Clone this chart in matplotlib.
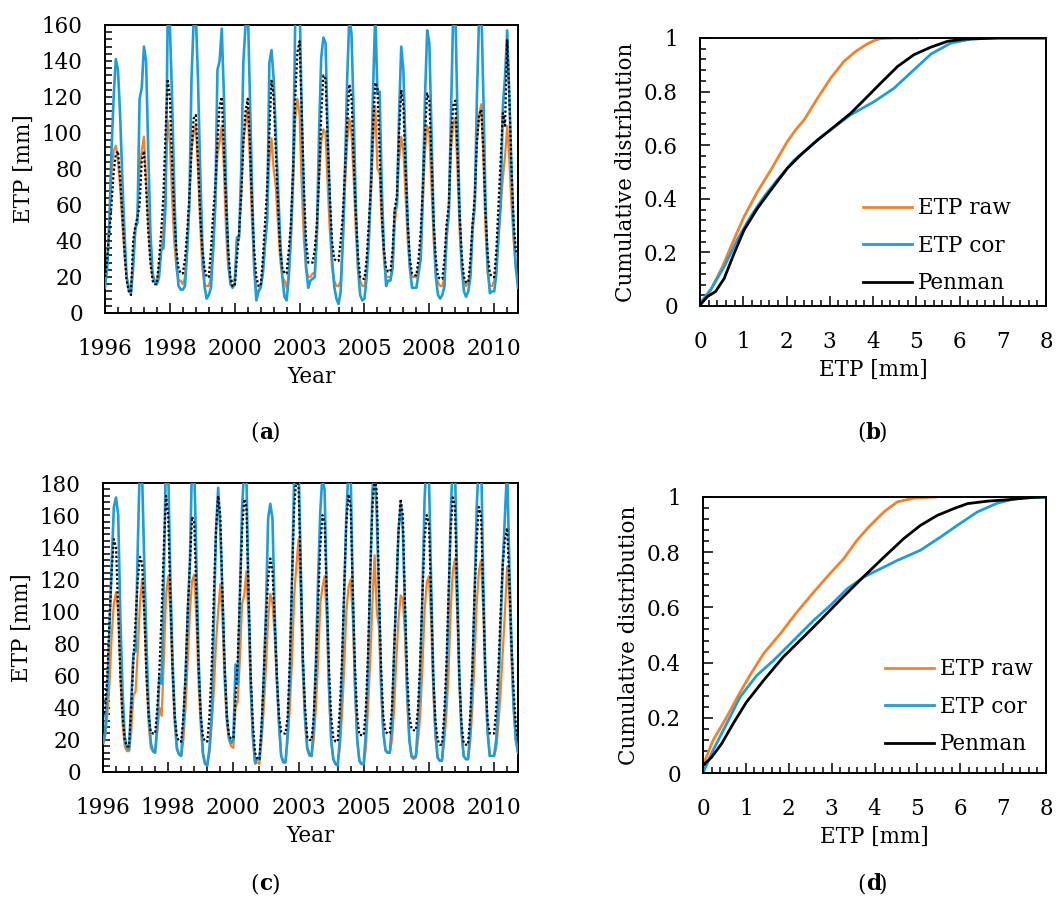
import numpy as np
import matplotlib
matplotlib.use("Agg")
import matplotlib.pyplot as plt
from matplotlib.ticker import MultipleLocator, FixedLocator, FuncFormatter

plt.rcParams['font.family'] = ['DejaVu Serif']
FS = 15.5

# ---------------- data: monthly ETP [mm], Jan 1996 - Dec 2011 ----------------
year_labels = ["1996", "1998", "2000", "2003", "2005", "2008", "2010"]

# panel (a)
raw_a = [
    [18, 28, 50, 78, 90, 93, 85, 70, 50, 32, 20, 15],
    [14, 28, 45, 55, 80, 90, 98, 75, 50, 30, 20, 18],
    [18, 25, 35, 45, 70, 107, 95, 65, 40, 25, 18, 18],
    [16, 20, 35, 60, 90, 100, 105, 80, 50, 25, 16, 15],
    [15, 20, 35, 60, 88, 95, 104, 80, 45, 25, 18, 18],
    [18, 38, 42, 65, 95, 105, 114, 85, 50, 25, 12, 12],
    [15, 22, 38, 52, 85, 97, 80, 70, 50, 30, 20, 18],
    [14, 22, 40, 70, 108, 119, 110, 70, 40, 25, 20, 20],
    [22, 22, 40, 75, 95, 102, 100, 70, 45, 25, 18, 15],
    [15, 18, 40, 70, 95, 108, 100, 75, 45, 25, 18, 15],
    [15, 22, 40, 65, 95, 115, 80, 78, 50, 30, 20, 20],
    [20, 25, 50, 60, 85, 98, 90, 65, 40, 25, 20, 20],
    [20, 25, 30, 60, 90, 104, 100, 70, 40, 22, 17, 15],
    [15, 20, 40, 55, 90, 105, 108, 80, 45, 25, 17, 15],
    [17, 22, 45, 58, 95, 110, 116, 85, 45, 22, 15, 15],
    [18, 25, 40, 60, 75, 87, 104, 85, 60, 40, 25, 18],
]
cor_a = [
    [14, 25, 50, 90, 120, 141, 135, 110, 75, 45, 20, 13],
    [11, 25, 47, 50, 119, 125, 148, 140, 90, 45, 22, 17],
    [16, 20, 35, 36, 60, 165, 160, 120, 70, 30, 15, 13],
    [13, 15, 35, 60, 130, 162, 166, 130, 80, 40, 15, 8],
    [10, 14, 35, 60, 135, 140, 158, 120, 70, 30, 16, 14],
    [16, 42, 42, 80, 140, 160, 172, 120, 70, 25, 7, 12],
    [14, 22, 38, 52, 139, 146, 130, 100, 70, 42, 20, 9],
    [7, 20, 45, 80, 165, 178, 172, 110, 60, 25, 14, 18],
    [19, 20, 45, 100, 142, 153, 150, 100, 60, 30, 15, 8],
    [5, 12, 40, 80, 130, 165, 155, 110, 60, 25, 10, 7],
    [8, 20, 40, 75, 125, 167, 122, 123, 70, 35, 15, 18],
    [18, 25, 57, 60, 110, 148, 135, 90, 50, 25, 14, 14],
    [14, 22, 30, 70, 120, 157, 150, 100, 50, 20, 10, 8],
    [10, 15, 45, 55, 110, 165, 170, 110, 55, 25, 12, 9],
    [12, 20, 48, 60, 120, 165, 172, 120, 60, 25, 11, 12],
    [12, 22, 45, 60, 115, 131, 157, 120, 80, 45, 25, 14],
]
pen_a = [
    [20, 30, 45, 60, 78, 88, 90, 75, 55, 35, 18, 12],
    [10, 40, 48, 53, 60, 85, 90, 70, 45, 28, 18, 16],
    [16, 30, 45, 65, 100, 130, 120, 85, 55, 35, 25, 22],
    [22, 30, 45, 65, 90, 108, 110, 85, 55, 35, 25, 20],
    [20, 35, 55, 70, 95, 115, 120, 90, 60, 35, 20, 15],
    [15, 30, 45, 65, 95, 112, 119, 95, 60, 35, 20, 15],
    [15, 30, 50, 70, 100, 129, 120, 90, 60, 35, 25, 22],
    [22, 35, 50, 80, 120, 145, 151, 110, 70, 40, 28, 28],
    [28, 35, 50, 75, 110, 132, 130, 95, 65, 40, 30, 29],
    [29, 40, 55, 80, 105, 127, 120, 85, 55, 32, 20, 19],
    [19, 30, 50, 70, 105, 128, 125, 90, 55, 35, 25, 23],
    [23, 35, 58, 65, 100, 124, 115, 80, 50, 30, 22, 21],
    [21, 30, 45, 70, 100, 122, 118, 85, 50, 30, 20, 19],
    [19, 30, 50, 60, 95, 115, 118, 90, 55, 32, 20, 17],
    [17, 30, 50, 65, 95, 110, 113, 90, 55, 32, 22, 20],
    [20, 35, 60, 85, 111, 104, 152, 120, 80, 50, 35, 32],
]

# panel (c)
raw_c = [
    [17, 22, 35, 55, 85, 105, 112, 100, 60, 30, 16, 13],
    [13, 25, 48, 50, 75, 105, 120, 100, 60, 30, 15, 13],
    [12, 25, 40, 35, 70, 110, 122, 100, 60, 30, 14, 11],
    [10, 20, 40, 70, 100, 119, 123, 95, 55, 28, 10, 5],
    [5, 12, 30, 50, 80, 100, 117, 95, 55, 30, 20, 16],
    [15, 40, 44, 70, 105, 110, 125, 95, 50, 20, 5, 6],
    [5, 20, 40, 65, 95, 111, 105, 85, 55, 30, 10, 7],
    [6, 20, 40, 70, 110, 128, 145, 110, 60, 30, 14, 10],
    [10, 20, 40, 70, 105, 115, 122, 95, 50, 20, 8, 5],
    [5, 15, 35, 65, 100, 115, 120, 95, 50, 20, 7, 5],
    [5, 15, 40, 70, 105, 135, 100, 90, 50, 25, 13, 12],
    [12, 20, 40, 70, 95, 110, 108, 85, 45, 20, 9, 8],
    [9, 20, 35, 65, 100, 118, 122, 95, 50, 22, 9, 7],
    [7, 18, 35, 60, 100, 125, 133, 100, 55, 25, 10, 8],
    [8, 18, 40, 70, 105, 125, 132, 100, 55, 25, 10, 10],
    [10, 15, 30, 50, 75, 100, 128, 110, 70, 40, 20, 12],
]
cor_c = [
    [18, 25, 50, 90, 130, 165, 171, 160, 95, 50, 22, 15],
    [14, 45, 74, 75, 140, 195, 185, 130, 80, 40, 18, 13],
    [12, 30, 60, 55, 120, 200, 190, 121, 70, 35, 15, 11],
    [10, 30, 60, 100, 131, 195, 190, 130, 70, 35, 12, 5],
    [4, 15, 34, 90, 150, 177, 150, 110, 65, 35, 21, 18],
    [20, 67, 55, 110, 164, 190, 185, 110, 55, 22, 6, 8],
    [8, 25, 60, 100, 158, 167, 158, 100, 60, 30, 10, 6],
    [6, 24, 60, 120, 185, 200, 195, 130, 70, 35, 15, 11],
    [10, 30, 70, 120, 162, 185, 175, 110, 55, 20, 8, 5],
    [4, 20, 60, 110, 160, 190, 185, 110, 55, 20, 7, 5],
    [5, 25, 65, 120, 175, 190, 160, 110, 55, 25, 14, 12],
    [12, 30, 76, 110, 150, 167, 150, 100, 50, 20, 10, 9],
    [10, 30, 60, 110, 170, 195, 185, 120, 60, 25, 9, 7],
    [7, 25, 52, 100, 160, 195, 190, 120, 60, 25, 10, 8],
    [8, 25, 60, 110, 165, 195, 200, 120, 60, 25, 10, 10],
    [10, 20, 50, 90, 130, 160, 190, 130, 80, 40, 20, 12],
]
pen_c = [
    [34, 40, 60, 95, 125, 145, 140, 100, 60, 35, 20, 16],
    [16, 40, 70, 95, 120, 134, 130, 100, 60, 35, 25, 24],
    [24, 40, 65, 100, 140, 172, 160, 110, 65, 35, 22, 19],
    [19, 35, 60, 100, 130, 159, 155, 110, 65, 35, 22, 19],
    [19, 35, 65, 110, 150, 172, 160, 110, 65, 35, 22, 21],
    [21, 45, 70, 110, 150, 170, 165, 110, 60, 30, 12, 8],
    [8, 30, 60, 95, 120, 133, 125, 95, 60, 35, 25, 24],
    [24, 35, 70, 120, 165, 183, 178, 125, 70, 40, 22, 20],
    [20, 35, 65, 105, 140, 160, 155, 110, 65, 35, 21, 19],
    [19, 40, 70, 115, 155, 173, 165, 110, 65, 35, 23, 23],
    [23, 40, 75, 125, 165, 183, 175, 115, 65, 35, 25, 24],
    [24, 40, 75, 115, 150, 170, 160, 105, 60, 35, 27, 26],
    [26, 40, 70, 110, 145, 160, 155, 110, 60, 32, 20, 17],
    [17, 35, 65, 110, 150, 171, 165, 110, 60, 30, 18, 17],
    [17, 35, 65, 110, 145, 165, 160, 110, 60, 32, 24, 24],
    [24, 40, 65, 100, 130, 145, 152, 120, 80, 50, 30, 20],
]

# ---------------- data: cumulative distributions of daily ETP ----------------
cdf_b_raw_x = [0, 0.25, 0.52, 0.71, 1.02, 1.33, 1.64, 2.02, 2.2, 2.41, 2.72, 3.02, 3.33, 3.60, 3.87, 4.05, 4.18, 4.5, 5.03]
cdf_b_raw_y = [0, 0.06, 0.147, 0.22, 0.334, 0.427, 0.508, 0.614, 0.655, 0.695, 0.776, 0.85, 0.913, 0.95, 0.978, 0.992, 0.998, 1.0, 1.0]
cdf_b_cor_x = [0, 0.25, 0.56, 0.86, 1.17, 1.48, 1.79, 2.18, 2.64, 3.02, 3.49, 4.03, 4.49, 4.95, 5.34, 5.80, 6.27, 6.88, 8.0]
cdf_b_cor_y = [0.01, 0.062, 0.147, 0.247, 0.334, 0.408, 0.471, 0.545, 0.608, 0.658, 0.714, 0.763, 0.813, 0.882, 0.94, 0.981, 0.996, 1.0, 1.0]
cdf_b_pen_x = [0, 0.17, 0.36, 0.56, 0.79, 1.02, 1.33, 1.64, 2.02, 2.33, 2.72, 3.02, 3.49, 3.80, 4.18, 4.57, 4.95, 5.34, 5.73, 6.11, 6.9, 8.0]
cdf_b_pen_y = [0.004, 0.035, 0.054, 0.103, 0.197, 0.284, 0.365, 0.433, 0.514, 0.564, 0.62, 0.658, 0.72, 0.77, 0.832, 0.894, 0.938, 0.966, 0.988, 0.996, 1.0, 1.0]

cdf_d_raw_x = [0, 0.23, 0.55, 0.82, 1.09, 1.41, 1.80, 2.19, 2.58, 2.97, 3.28, 3.59, 3.90, 4.22, 4.53, 4.92, 5.43]
cdf_d_raw_y = [0.027, 0.117, 0.202, 0.28, 0.353, 0.432, 0.504, 0.583, 0.655, 0.724, 0.776, 0.843, 0.897, 0.946, 0.982, 0.996, 1.0]
cdf_d_cor_x = [0, 0.23, 0.55, 0.86, 1.25, 1.64, 2.11, 2.58, 2.97, 3.36, 3.75, 4.14, 4.53, 5.07, 5.54, 5.93, 6.40, 6.87, 7.34, 8.0]
cdf_d_cor_y = [0, 0.081, 0.178, 0.274, 0.353, 0.407, 0.48, 0.553, 0.607, 0.667, 0.71, 0.74, 0.77, 0.807, 0.855, 0.897, 0.946, 0.978, 0.996, 1.0]
cdf_d_pen_x = [0, 0.2, 0.43, 0.70, 1.01, 1.41, 1.87, 2.34, 2.81, 3.28, 3.75, 4.22, 4.68, 5.07, 5.46, 5.85, 6.17, 6.64, 7.10, 7.65, 8.0]
cdf_d_pen_y = [0.027, 0.057, 0.105, 0.178, 0.256, 0.335, 0.42, 0.492, 0.565, 0.64, 0.712, 0.782, 0.849, 0.897, 0.933, 0.958, 0.976, 0.985, 0.99, 0.998, 1.0]

series_names = ["ETP raw", "ETP cor", "Penman"]
ORANGE = "#F5822A"
BLUE = "#1F9DD9"
BLACK = "#000000"

W, H = 1059, 902
fig = plt.figure(figsize=(W / 100, H / 100), dpi=100)


def box(l, t, r, b):
    return [l / W, 1 - b / H, (r - l) / W, (b - t) / H]


def style_axes(ax):
    for s in ax.spines.values():
        s.set_linewidth(1.4)
        s.set_color("black")
    ax.tick_params(which="both", direction="in", top=False, right=False,
                   width=1.1, labelsize=FS, color="black")
    ax.tick_params(axis="x", which="both", pad=18)
    ax.tick_params(axis="y", which="both", pad=16)
    ax.tick_params(which="major", length=7)
    ax.tick_params(which="minor", length=4.5)


def timeseries(ax, raw, cor, pen, ymax):
    x = np.arange(192)
    ax.plot(x, np.concatenate(raw), color=ORANGE, lw=1.6, zorder=2)
    ax.plot(x, np.concatenate(cor), color=BLUE, lw=1.9, zorder=3)
    ax.plot(x, np.concatenate(pen), color=BLACK, lw=1.6, ls=(0, (1, 1)), zorder=4)
    ax.set_xlim(0, 191)
    ax.set_ylim(0, ymax)
    ax.xaxis.set_major_locator(FixedLocator(np.arange(0, 192, 30)))
    ax.set_xticklabels(year_labels)
    ax.xaxis.set_minor_locator(FixedLocator(np.arange(0, 192, 6)))
    ax.yaxis.set_major_locator(MultipleLocator(20))
    ax.yaxis.set_minor_locator(MultipleLocator(4))
    style_axes(ax)
    ax.tick_params(axis="y", which="both", length=5)
    ax.set_ylabel("ETP [mm]", fontsize=FS, labelpad=5)
    ax.set_xlabel("Year", fontsize=FS, labelpad=4)


def cdf(ax, data, legpos):
    cols = [ORANGE, BLUE, BLACK]
    for (xx, yy), c, n in zip(data, cols, series_names):
        ax.plot(xx, yy, color=c, lw=2.0, label=n)
    ax.set_xlim(0, 8)
    ax.set_ylim(0, 1)
    ax.xaxis.set_major_locator(MultipleLocator(1))
    ax.xaxis.set_minor_locator(MultipleLocator(0.2))
    ax.yaxis.set_major_locator(MultipleLocator(0.2))
    ax.yaxis.set_minor_locator(MultipleLocator(0.04))
    ax.yaxis.set_major_formatter(FuncFormatter(lambda v, p: "%g" % round(v, 2)))
    style_axes(ax)
    ax.set_ylabel("Cumulative distribution", fontsize=FS, labelpad=5)
    ax.set_xlabel("ETP [mm]", fontsize=FS, labelpad=4)
    ax.legend(loc="center left", bbox_to_anchor=legpos, frameon=False,
              fontsize=FS, handlelength=2.3, handletextpad=0.25,
              labelspacing=0.72, borderpad=0, borderaxespad=0)


ax_a = fig.add_axes(box(105, 25, 518, 313))
timeseries(ax_a, raw_a, cor_a, pen_a, 160)

ax_b = fig.add_axes(box(700, 38, 1046, 306))
cdf(ax_b, [(cdf_b_raw_x, cdf_b_raw_y), (cdf_b_cor_x, cdf_b_cor_y), (cdf_b_pen_x, cdf_b_pen_y)],
    (0.47, 0.225))

ax_c = fig.add_axes(box(103, 483, 518, 772))
timeseries(ax_c, raw_c, cor_c, pen_c, 180)

ax_d = fig.add_axes(box(703, 497, 1046, 773))
cdf(ax_d, [(cdf_d_raw_x, cdf_d_raw_y), (cdf_d_cor_x, cdf_d_cor_y), (cdf_d_pen_x, cdf_d_pen_y)],
    (0.53, 0.24))

for lab, (px, py) in zip("abcd", [(259, 433), (866, 433), (259, 884), (866, 884)]):
    fig.text(px / W, 1 - py / H, "(", ha="right", va="center", fontsize=FS)
    fig.text(px / W, 1 - py / H, lab, ha="left", va="center", fontsize=FS,
             fontweight="bold")
    fig.text(px / W + 0.0122, 1 - py / H, ")", ha="left", va="center", fontsize=FS)

fig.savefig("out.png", dpi=100)
